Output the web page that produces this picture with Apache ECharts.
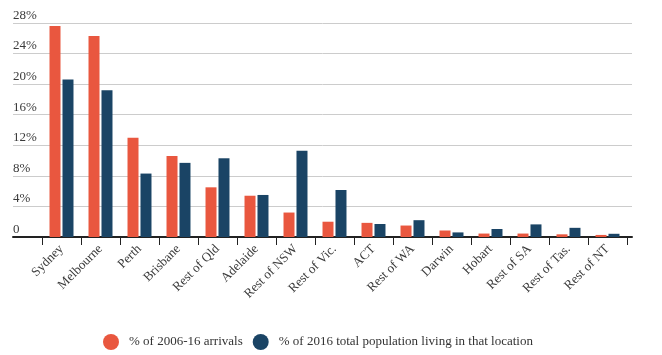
<!DOCTYPE html>
<html>
<head>
<meta charset="utf-8">
<script src="https://cdn.jsdelivr.net/npm/echarts@6/dist/echarts.min.js"></script>
<style>
html,body{margin:0;padding:0;background:#fff;}
#chart{width:662px;height:355px;}
</style>
</head>
<body>
<div id="chart"></div>
<script>
var categories = ['Sydney','Melbourne','Perth','Brisbane','Rest of Qld','Adelaide','Rest of NSW','Rest of Vic.','ACT','Rest of WA','Darwin','Hobart','Rest of SA','Rest of Tas.','Rest of NT'];
var arrivals = [27.6, 26.3, 13.0, 10.6, 6.5, 5.4, 3.2, 2.0, 1.85, 1.5, 0.85, 0.45, 0.45, 0.35, 0.27];
var population = [20.6, 19.2, 8.3, 9.7, 10.3, 5.5, 11.3, 6.15, 1.7, 2.2, 0.6, 1.05, 1.65, 1.2, 0.42];
var seriesNames = ['% of 2006-16 arrivals', '% of 2016 total population living in that location'];
var yTickLabels = ['0','4%','8%','12%','16%','20%','24%','28%'];

var FONT = '"Liberation Serif", "DejaVu Serif", serif';
var RED = '#e9573f';
var BLUE = '#1a4465';

var chart = echarts.init(document.getElementById('chart'));
chart.setOption({
  animation: false,
  backgroundColor: '#ffffff',
  grid: [
    {left: 13, right: 30, top: 23, bottom: 118},
    {left: 42, right: 35, top: 23, bottom: 118}
  ],
  legend: {
    left: 98, top: 329,
    icon: 'circle',
    itemWidth: 16, itemHeight: 16,
    itemGap: 10,
    textStyle: {fontFamily: FONT, fontSize: 13, color: '#333', padding: [0,0,0,5]},
    data: seriesNames
  },
  xAxis: [
    {
      type: 'value', gridIndex: 0, min: 0, max: 1,
      axisLine: {show: true, lineStyle: {color: '#222', width: 2}},
      axisTick: {show: false}, axisLabel: {show: false}, splitLine: {show: false}
    },
    {
      type: 'category', gridIndex: 1, data: categories,
      axisLine: {show: true, lineStyle: {color: '#222', width: 2}},
      axisTick: {show: true, length: 8, lineStyle: {color: '#222', width: 1}},
      axisLabel: {interval: 0, rotate: 45, margin: 10, fontFamily: FONT, fontSize: 13, color: '#3a3a3a'}
    }
  ],
  yAxis: [
    {
      type: 'value', gridIndex: 0, min: 0, max: 28, interval: 4,
      axisLine: {show: false}, axisTick: {show: false},
      splitLine: {show: true, lineStyle: {color: '#cccccc', width: 1}},
      axisLabel: {
        inside: true, margin: 0, verticalAlign: 'bottom', align: 'left',
        fontFamily: FONT, fontSize: 13, color: '#3a3a3a', padding: [0,0,1,0],
        formatter: function (v) { return yTickLabels[Math.round(v / 4)]; }
      }
    },
    {
      type: 'value', gridIndex: 1, min: 0, max: 28, interval: 4, show: false
    }
  ],
  series: [
    {
      name: seriesNames[0], type: 'bar', xAxisIndex: 1, yAxisIndex: 1,
      data: arrivals, barWidth: 11, barGap: '18%',
      itemStyle: {color: RED}
    },
    {
      name: seriesNames[1], type: 'bar', xAxisIndex: 1, yAxisIndex: 1,
      data: population, barWidth: 11, barGap: '18%',
      itemStyle: {color: BLUE}
    }
  ]
});
</script>
</body>
</html>
